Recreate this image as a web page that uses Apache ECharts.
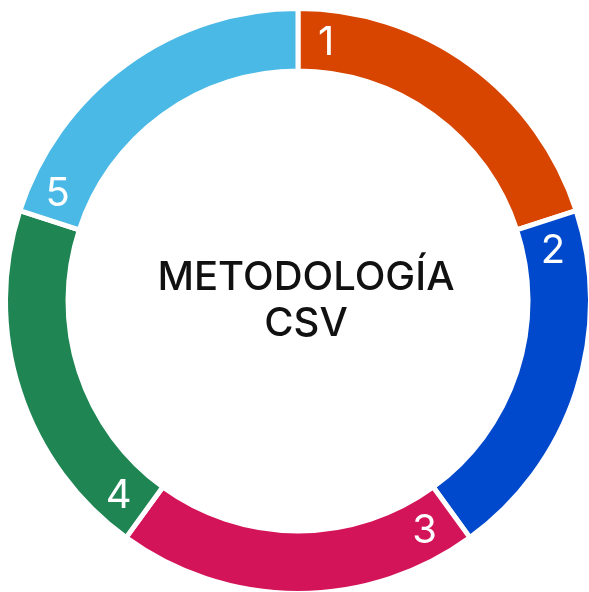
<!DOCTYPE html>
<html>
<head>
<meta charset="utf-8">
<script src="https://cdn.jsdelivr.net/npm/echarts@6/dist/echarts.min.js"></script>
<style>
  html, body { margin: 0; padding: 0; background: #fff; }
  #main { width: 589px; height: 592px; }
</style>
</head>
<body>
<div id="main"></div>
<script>
// data
const categories = ['1', '2', '3', '4', '5'];
const values = [1, 1, 1, 1, 1];
const centerText = 'METODOLOGÍA\nCSV';

// styles
const colors = ['#D84500', '#0049CC', '#D41459', '#1E8553', '#4BB9E6'];
const labelShiftDeg = 6.6;   // number sits just after the start of its segment
const labelRadius = 262;
const ringInner = 230, ringOuter = 292.5;
const ringCenter = [298, 301];

const total = values.reduce((a, b) => a + b, 0);
let acc = 0;
const labelPoints = categories.map((c, i) => {
  const start = acc / total * 360;
  acc += values[i];
  return { name: c, value: [labelRadius, start + labelShiftDeg] };
});

var myChart = echarts.init(document.getElementById('main'));
var option = {
  animation: false,
  polar: { center: [296, 303], radius: ringOuter },
  angleAxis: {
    type: 'value', min: 0, max: 360, startAngle: 90, clockwise: true,
    show: false
  },
  radiusAxis: { type: 'value', min: 0, max: ringOuter, show: false },
  graphic: [{
    type: 'text',
    x: 306,
    y: 301,
    style: {
      text: centerText,
      fontFamily: 'Inter',
      fontSize: 40,
      fontWeight: 500,
      lineHeight: 46,
      textAlign: 'center',
      textVerticalAlign: 'middle',
      fill: '#111'
    }
  }],
  series: [
    {
      type: 'pie',
      center: ringCenter,
      radius: [ringInner, ringOuter],
      startAngle: 90,
      clockwise: true,
      label: { show: false },
      labelLine: { show: false },
      emphasis: { disabled: true },
      itemStyle: { borderColor: '#fff', borderWidth: 5 },
      data: categories.map((c, i) => ({ name: c, value: values[i], itemStyle: { color: colors[i] } }))
    },
    {
      type: 'scatter',
      coordinateSystem: 'polar',
      symbolSize: 0,
      z: 10,
      itemStyle: { opacity: 1 },
      label: {
        show: true,
        position: 'inside',
        formatter: '{b}',
        color: '#fff',
        fontFamily: 'Inter',
        fontSize: 40
      },
      data: labelPoints
    }
  ]
};
myChart.setOption(option);
</script>
</body>
</html>
